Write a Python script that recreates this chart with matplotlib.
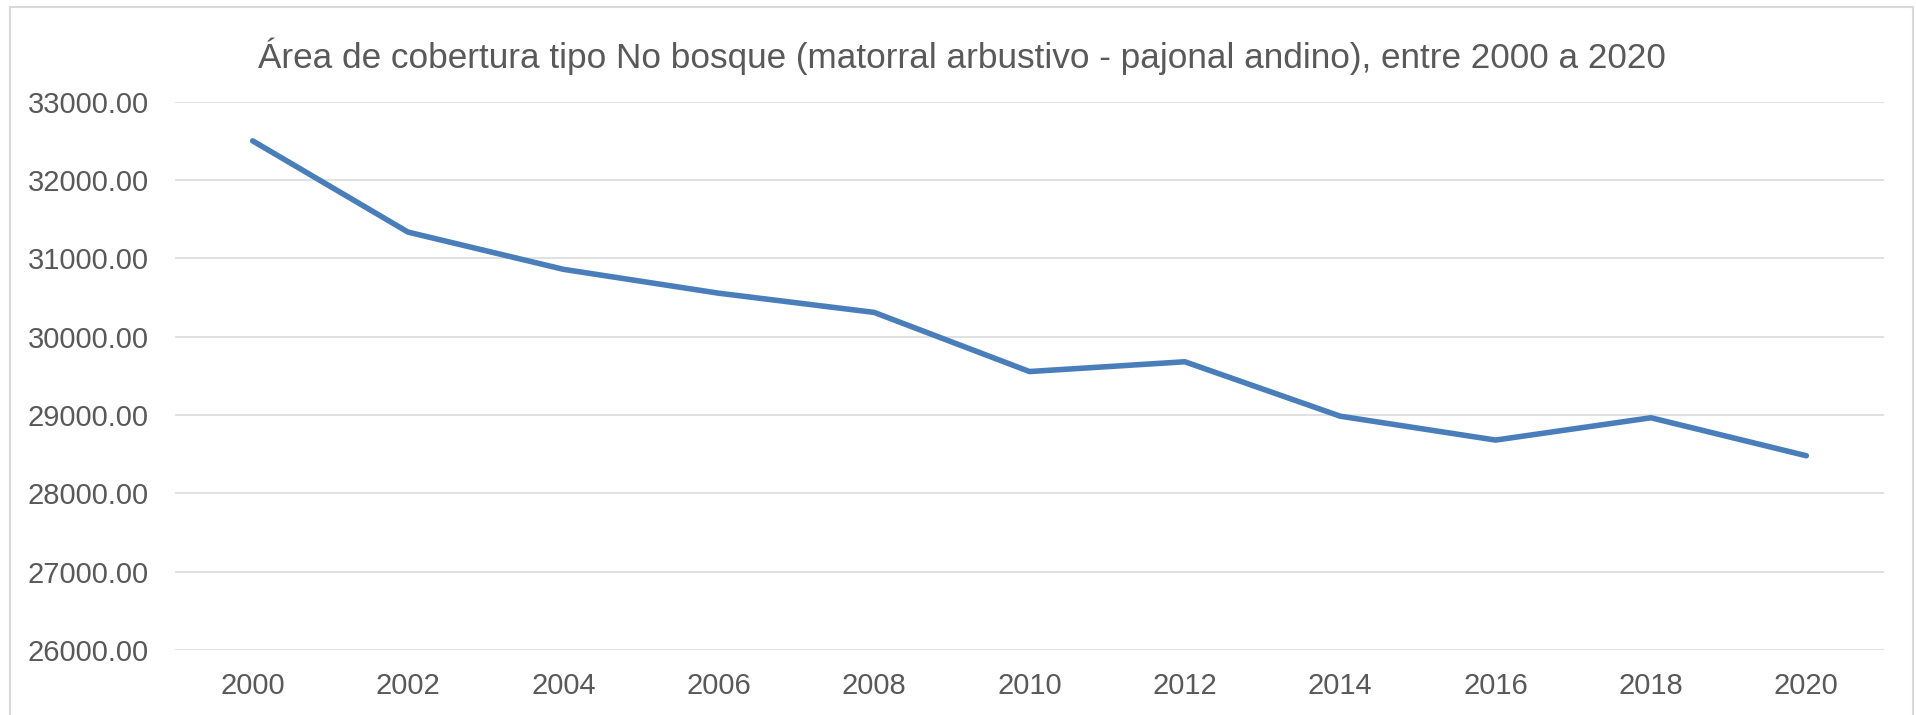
import matplotlib
matplotlib.use("Agg")
import matplotlib.pyplot as plt
from matplotlib.patches import Rectangle

# Area of non-forest cover (shrubland - Andean grassland), hectares
years = ["2000", "2002", "2004", "2006", "2008", "2010",
         "2012", "2014", "2016", "2018", "2020"]
area = [32500, 31335, 30860, 30555, 30310, 29555,
        29680, 28985, 28680, 28965, 28480]
y_ticks = [26000, 27000, 28000, 29000, 30000, 31000, 32000, 33000]
title = ("Área de cobertura tipo No bosque (matorral arbustivo - "
         "pajonal andino), entre 2000 a 2020")

plt.rcParams["font.family"] = ["Liberation Sans", "DejaVu Sans"]

W, H, DPI = 1916, 715, 100
fig = plt.figure(figsize=(W / DPI, H / DPI), dpi=DPI)
fig.patch.set_facecolor("white")

text_color = "#595959"
grid_color = "#d9d9d9"
line_color = "#4a7ebb"

# chart frame
fig.patches.append(Rectangle((10 / W, -0.05), (1913 - 10) / W, (H - 7) / H + 0.05,
                             transform=fig.transFigure, fill=False,
                             edgecolor=grid_color, linewidth=1.5))

left, right, top, bottom = 175, 1884, 101.7, 650
ax = fig.add_axes([left / W, (H - bottom) / H, (right - left) / W, (bottom - top) / H])

x = list(range(len(years)))
ax.plot(x, area, color=line_color, linewidth=4.0,
        solid_capstyle="round", solid_joinstyle="round", zorder=3)

ax.set_xlim(-0.5, len(years) - 0.5)
ax.set_ylim(y_ticks[0], y_ticks[-1])
ax.set_yticks(y_ticks)
ax.set_yticklabels([f"{v:.2f}" for v in y_ticks])
ax.set_xticks(x)
ax.set_xticklabels(years)

ax.grid(axis="y", color=grid_color, linewidth=1.1)
ax.set_axisbelow(True)
for s in ax.spines.values():
    s.set_visible(False)
ax.tick_params(axis="both", length=0, labelsize=21, colors=text_color)
ax.tick_params(axis="y", pad=19)
ax.tick_params(axis="x", pad=16)

fig.text(962 / W, (H - 56) / H, title, ha="center", va="center",
         fontsize=25.3, color=text_color)

fig.savefig("out.png", dpi=DPI, facecolor="white")
